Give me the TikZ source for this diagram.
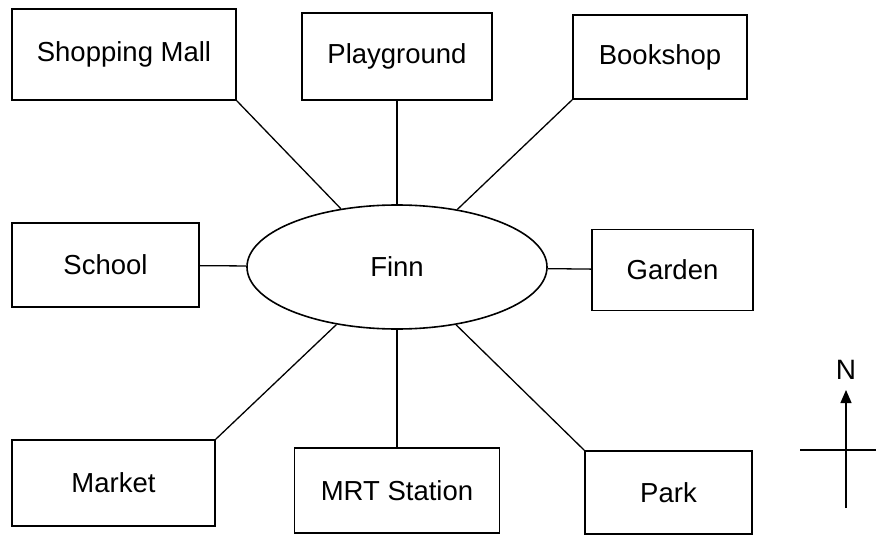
\documentclass[tikz,border=0pt]{standalone}
\usepackage{fontspec}
\setmainfont{Liberation Sans}
\usetikzlibrary{arrows.meta,shapes.geometric}
\tikzset{
    %Define standard arrow tip
    >={Triangle[length=13pt,width=11pt]},
    %Define style for places
    place/.style={
           rectangle,
           draw=black, line width=1.6pt,
           inner sep=0pt,
           font=\fontsize{27.5}{32}\selectfont,
           text centered},
    hub/.style={
           ellipse,
           draw=black, line width=1.6pt,
           inner sep=0pt,
           minimum width=300pt,
           minimum height=124pt,
           font=\fontsize{27.5}{32}\selectfont},
    % Define line style
    link/.style={
           line width=1.3pt}
}
\begin{document}
\begin{tikzpicture}[x=1pt,y=-1pt]
\useasboundingbox (0,0) rectangle (876,535);
\node[hub](finn) at (397,267){Finn};
\node[place, minimum width=224pt, minimum height=91pt](mall) at (124,54.5){Shopping Mall};
\node[place, minimum width=190pt, minimum height=87pt](play) at (397,56.5){Playground};
\node[place, minimum width=174pt, minimum height=84pt](book) at (660,57){Bookshop};
\node[place, minimum width=187pt, minimum height=84pt](school) at (105.5,265){School};
\node[place, minimum width=161pt, minimum height=81pt](garden) at (672.5,270){Garden};
\node[place, minimum width=203pt, minimum height=86pt](market) at (113.5,483){Market};
\node[place, minimum width=205pt, minimum height=85pt](mrt) at (397,490.5){MRT Station};
\node[place, minimum width=167pt, minimum height=83pt](park) at (668.5,492.5){Park};
\path[link]
	(mall.south east) edge (finn)
	(play) edge (finn)
	(book.south west) edge (finn)
	(school) edge (finn)
	(garden) edge (finn)
	(market.north east) edge (finn)
	(mrt) edge (finn)
	(park.north west) edge (finn);
% compass
\node[font=\fontsize{28}{32}\selectfont, inner sep=0pt](north) at (846,370){N};
\coordinate (south) at (846,508);
\coordinate (tip) at (846,390);
\coordinate (west) at (800,450);
\coordinate (east) at (876,450);
\draw[link,->] (south) -- (tip);
\draw[link] (west) -- (east);
\end{tikzpicture}
\end{document}
